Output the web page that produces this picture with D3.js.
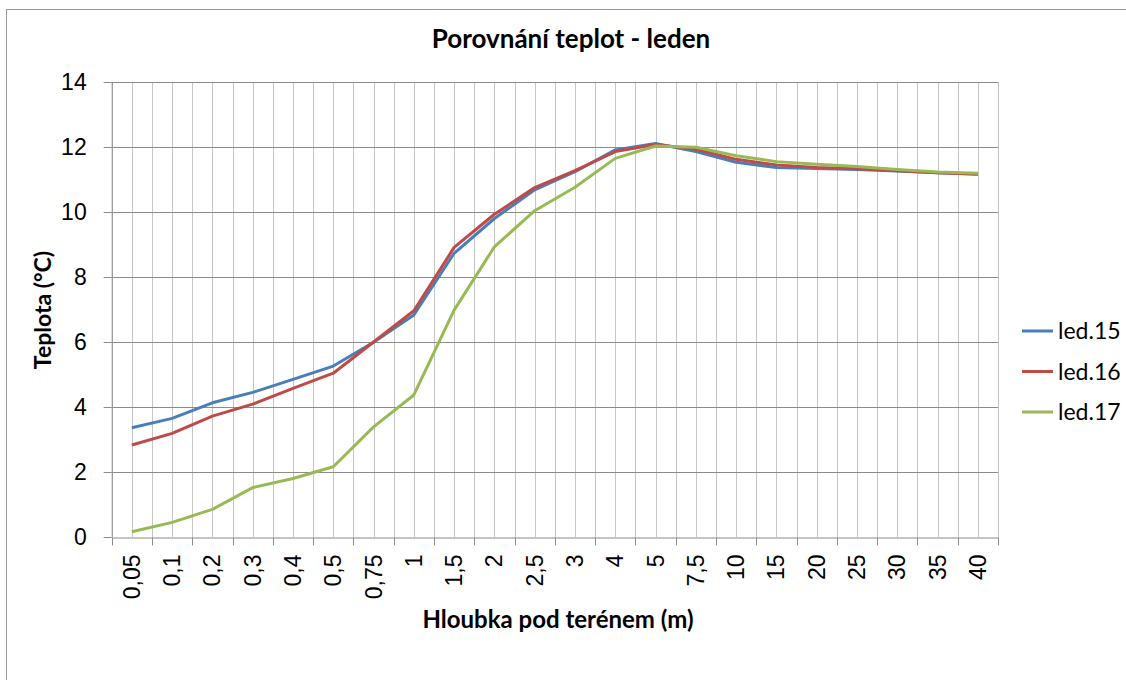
<!DOCTYPE html>
<html lang="cs">
<head>
  <meta charset="UTF-8">
  <title>Porovnání teplot - leden</title>
  <script src="https://d3js.org/d3.v7.min.js"></script>
  <style>
    body { margin: 0; background: #fff; }
    svg { display: block; font-family: Lato, "Open Sans", sans-serif; }
    .grid line { stroke: #c6c6c6; stroke-width: 1; }
    .hgrid line { stroke: #8c8c8c; stroke-width: 1; }
    .axis path, .axis line { stroke: #8c8c8c; }
    .axis text { fill: #000; font-size: 23px; }
  </style>
</head>
<body>
  <div id="chart"></div>
  <script>
    // depth categories (x axis)
    const depths = ["0,05", "0,1", "0,2", "0,3", "0,4", "0,5", "0,75", "1", "1,5", "2", "2,5",
                    "3", "4", "5", "7,5", "10", "15", "20", "25", "30", "35", "40"];
    const seriesNames = ["led.15", "led.16", "led.17"];
    const seriesColors = ["#4a7ebb", "#be4b48", "#98b954"];

    // temperature values (°C)
    const led15 = [3.36, 3.65, 4.13, 4.45, 4.85, 5.26, 5.99, 6.83, 8.73, 9.80, 10.68,
                   11.24, 11.91, 12.11, 11.86, 11.53, 11.37, 11.34, 11.31, 11.26, 11.21, 11.17];
    const led16 = [2.83, 3.19, 3.72, 4.09, 4.57, 5.04, 6.00, 6.96, 8.91, 9.93, 10.75,
                   11.27, 11.86, 12.08, 11.93, 11.62, 11.45, 11.37, 11.33, 11.27, 11.21, 11.16];
    const led17 = [0.16, 0.45, 0.85, 1.52, 1.80, 2.16, 3.39, 4.37, 6.98, 8.93, 10.04,
                   10.76, 11.65, 12.03, 11.99, 11.73, 11.55, 11.47, 11.40, 11.31, 11.23, 11.19];
    const yTicks = [0, 2, 4, 6, 8, 10, 12, 14];

    const series = [led15, led16, led17];

    const width = 1126, height = 680;
    const plot = { left: 111.7, right: 998, top: 82, bottom: 537 };

    const svg = d3.select("#chart").append("svg")
      .attr("width", width)
      .attr("height", height);

    // chart frame
    svg.append("rect")
      .attr("x", 6.5).attr("y", 9.5)
      .attr("width", width).attr("height", height)
      .attr("fill", "none")
      .attr("stroke", "#9a9a9a");

    const x = d3.scaleBand()
      .domain(depths)
      .range([plot.left, plot.right]);

    const y = d3.scaleLinear()
      .domain([0, 14])
      .range([plot.bottom, plot.top]);

    // vertical grid: category boundaries and centers
    const vLines = [];
    depths.forEach(d => { vLines.push(x(d)); vLines.push(x(d) + x.bandwidth() / 2); });
    vLines.push(plot.right);

    svg.append("g").attr("class", "grid")
      .selectAll("line")
      .data(vLines)
      .join("line")
      .attr("x1", d => Math.round(d) + 0.5)
      .attr("x2", d => Math.round(d) + 0.5)
      .attr("y1", plot.top)
      .attr("y2", plot.bottom);

    // horizontal grid
    svg.append("g").attr("class", "hgrid")
      .selectAll("line")
      .data(yTicks.slice(1))
      .join("line")
      .attr("x1", plot.left)
      .attr("x2", plot.right)
      .attr("y1", d => Math.round(y(d)) + 0.5)
      .attr("y2", d => Math.round(y(d)) + 0.5);

    // y axis
    svg.append("g")
      .attr("class", "axis")
      .attr("transform", `translate(${plot.left},0)`)
      .call(d3.axisLeft(y).tickValues(yTicks).tickSize(8).tickSizeOuter(0).tickPadding(17));

    // x axis
    const xAxis = svg.append("g")
      .attr("class", "axis")
      .attr("transform", `translate(0,${Math.round(plot.bottom) + 0.5})`)
      .call(d3.axisBottom(x).tickSize(0).tickSizeOuter(0));

    xAxis.selectAll(".tick line").remove();
    xAxis.selectAll(".tick text")
      .attr("transform", "rotate(-90)")
      .attr("text-anchor", "end")
      .attr("dy", "0.35em")
      .attr("dx", 0)
      .attr("x", -17)
      .attr("y", 0);

    // x tick marks at category boundaries
    xAxis.selectAll(".bound")
      .data(vLines.filter((d, i) => i % 2 === 0 || d === plot.right))
      .join("line")
      .attr("class", "bound")
      .attr("x1", d => Math.round(d) + 0.5)
      .attr("x2", d => Math.round(d) + 0.5)
      .attr("y1", 0)
      .attr("y2", 8);

    // lines
    const line = d3.line()
      .x((d, i) => x(depths[i]) + x.bandwidth() / 2)
      .y(d => y(d));

    svg.append("g")
      .selectAll("path")
      .data(series)
      .join("path")
      .attr("d", line)
      .attr("fill", "none")
      .attr("stroke", (d, i) => seriesColors[i])
      .attr("stroke-width", 3)
      .attr("stroke-linejoin", "round");

    // title
    svg.append("text")
      .attr("x", 571)
      .attr("y", 48)
      .attr("text-anchor", "middle")
      .attr("font-size", 26)
      .attr("font-weight", "bold")
      .text("Porovnání teplot - leden");

    // axis titles
    svg.append("text")
      .attr("transform", "translate(51,310) rotate(-90)")
      .attr("text-anchor", "middle")
      .attr("font-size", 23)
      .attr("font-weight", "bold")
      .text("Teplota (°C)");

    svg.append("text")
      .attr("x", 558)
      .attr("y", 628)
      .attr("text-anchor", "middle")
      .attr("font-size", 24)
      .attr("font-weight", "bold")
      .text("Hloubka pod terénem (m)");

    // legend
    const legend = svg.append("g")
      .attr("transform", "translate(1022,331)");

    const item = legend.selectAll("g")
      .data(seriesNames)
      .join("g")
      .attr("transform", (d, i) => `translate(0,${i * 40.5})`);

    item.append("line")
      .attr("x1", 0).attr("x2", 31)
      .attr("stroke", (d, i) => seriesColors[i])
      .attr("stroke-width", 3);

    item.append("text")
      .attr("x", 36)
      .attr("dy", "0.35em")
      .attr("font-size", 23)
      .text(d => d);
  </script>
</body>
</html>
